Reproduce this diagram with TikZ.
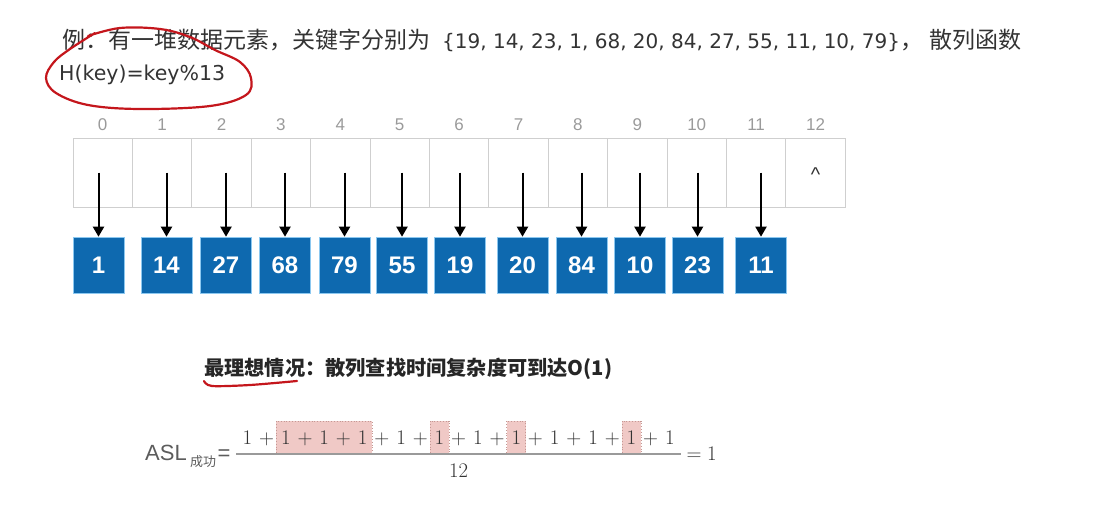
\documentclass[tikz,border=0pt]{standalone}
\usepackage[no-math]{fontspec}
\setmainfont{DejaVu Sans}
\newfontfamily\cjk{Noto Sans CJK SC}
\newfontfamily\arial{Liberation Sans}
\usetikzlibrary{positioning}
\usetikzlibrary{arrows.meta}
\definecolor{inkgray}{HTML}{333333}
\definecolor{idxgray}{HTML}{9A9A9A}
\definecolor{cellgray}{HTML}{CFCFCF}
\definecolor{keyblue}{HTML}{0E69AF}
\definecolor{keyedge}{HTML}{8CC8F0}
\definecolor{pen}{HTML}{C4161C}
\definecolor{markfill}{HTML}{F0C9C6}
\definecolor{markedge}{HTML}{C49894}
\def\sz#1{\fontsize{#1}{#1}\selectfont}
\def\zh#1{{\cjk\sz{23}#1}}
\pgfdeclarelayer{bg}
\pgfsetlayers{bg,main}

\begin{document}
\begin{tikzpicture}[x=1pt,y=-1pt,>={Triangle[length=10pt,width=11pt]},
		cell/.style={draw=cellgray,line width=0.8pt,minimum width=59.4pt,
			minimum height=69pt,inner sep=0pt},
		idx/.style={inner sep=0pt,text=idxgray,font=\arial\sz{17}},
		key/.style={fill=keyblue,draw=keyedge,line width=0.6pt,text=white,
			minimum width=51pt,minimum height=56pt,inner sep=0pt,
			font=\arial\bfseries\sz{24}},
		ptr/.style={->,line width=2pt},
		redpen/.style={draw=pen,line width=2.2pt,line cap=round},
		one/.style={inner sep=0pt,minimum width=10.5pt,text=inkgray,font=\sz{21}},
		plus/.style={one,minimum width=27.1pt},
		hitbox/.style={fill=markfill,draw=markedge,dotted,line width=0.8pt}]
		\useasboundingbox (0,0) rectangle (1095,522);
		
		% question text
		\node[anchor=base west,inner sep=0pt,text=inkgray,font=\sz{20}] (title) at (62,48)
			{\zh{例：有一堆数据元素，关键字分别为}\hspace{12pt}\{19, 14, 23, 1, 68, 20, 84, 27, 55, 11, 10, 79\}\zh{，\hspace{6pt}散列函数}};
		\node[anchor=base west,inner sep=0pt,text=inkgray,font=\sz{20.5}] (hkey) at (59,80)
			{H(key)=key\%13};
		\draw[redpen] plot[smooth,tension=0.6] coordinates {(88,36) (120,28) (160,29) (190,37)
			(215,50) (240,62) (251,78) (246,95) (210,106) (140,109) (88,105) (56,93)
			(46,78) (54,62) (70,49) (95,33)};
		
		% hash table
		\foreach \i in {0,...,12}{
			\node[cell] (c\i) at (102.7+59.4*\i,172.5) {};
			\node[idx,above=7pt of c\i] (i\i) {\i};
		}
		\node[inner sep=0pt,text=inkgray,font=\arial\sz{20}] (nil) at ([yshift=-2pt]c12.center) {\textasciicircum};
		
		\foreach \k/\v/\x in {0/1/98.5,1/14/166.5,2/27/226,3/68/285,4/79/344.5,5/55/402,
			6/19/460,7/20/522.5,8/84/581.5,9/10/640,10/23/697.5,11/11/761}{
			\node[key] (k\k) at (\x,265) {\v};
			\draw[ptr] (k\k |- c\k) -- (k\k);
		}
		
		% best case
		\node[anchor=west,inner sep=0pt,text=black!85,font=\cjk\bfseries\sz{20.2}] (best) at (204,369)
			{最理想情况：散列查找时间复杂度可到达O(1)};
		\draw[redpen] plot[smooth] coordinates {(204,381) (212,386) (250,385) (297,381)};
		
		% ASL
		\node[anchor=base west,inner sep=0pt,text=inkgray!80,font=\arial\sz{22}] (asl) at (145,460) {ASL};
		\node[base right=3pt of asl,yshift=-6pt,inner sep=0pt,text=inkgray!80,font=\cjk\sz{13}] (succ) {成功};
		\node[base right=1pt of succ,yshift=6pt,inner sep=0pt,text=inkgray!80,font=\arial\sz{22}] (eq) {=};
		
		\node[one,anchor=base west] (n1) at (242,444) {$1$};
		\foreach \i [remember=\i as \j (initially 1)] in {2,...,12}{
			\node[plus,base right=0pt of n\j] (p\j) {$+$};
			\node[one,base right=0pt of p\j] (n\i) {$1$};
		}
		\begin{pgfonlayer}{bg}
			\foreach \a/\b in {2/4,6/6,8/8,11/11}
			\draw[hitbox] ([shift={(-4pt,-9pt)}]n\a.base west) rectangle ([shift={(4pt,23pt)}]n\b.base east);
		\end{pgfonlayer}
		
		\coordinate (barL) at ([shift={(-6pt,-10pt)}]n1.base west);
		\coordinate (barR) at ([shift={(6pt,-10pt)}]n12.base east);
		\draw[idxgray,line width=1.6pt] (barL) -- coordinate (barM) (barR);
		\node[one,minimum width=0pt,below=10pt of barM] (den) {$12$};
		\node[one,minimum width=0pt,right=5pt of barR] (res) {$=1$};
\end{tikzpicture}
\end{document}
